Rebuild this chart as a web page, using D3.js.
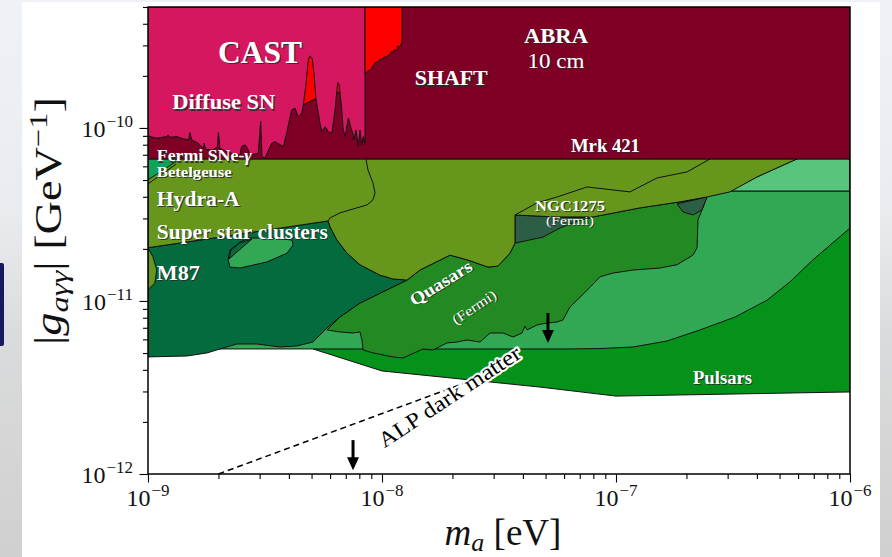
<!DOCTYPE html>
<html>
<head>
<meta charset="utf-8">
<script src="https://cdn.jsdelivr.net/npm/d3@7/dist/d3.min.js"></script>
<style>
  html, body { margin: 0; padding: 0; background: #e9edf1; overflow: hidden; }
  svg { display: block; }
</style>
</head>
<body>
<svg id="chart" width="892" height="557"></svg>
<script>
// Axion–photon coupling |g_aγγ| versus axion mass m_a: excluded regions.
// Every vertex is [m_a in eV, |g_aγγ| in GeV^-1].

const xMajorTicks = [1e-9, 1e-8, 1e-7, 1e-6];
const xTickExponents = ["−9", "−8", "−7", "−6"];
const yMajorTicks = [1e-12, 1e-11, 1e-10];
const yTickExponents = ["−12", "−11", "−10"];

// Mrk 421 / SHAFT / ABRA 10 cm band
const upperBand = [[1e-9, 6.62e-11], [1e-6, 6.62e-11], [1e-6, 5e-10], [1e-9, 5e-10]];

// Diffuse SN / Fermi SNe-γ edge (lower edge of the CAST region)
const diffuseSN = [
  [1.00e-9, 9.11e-11], [1.02e-9, 8.91e-11], [1.09e-9, 8.72e-11], [1.20e-9, 8.91e-11], [1.22e-9, 9.11e-11],
  [1.24e-9, 8.84e-11], [1.33e-9, 8.91e-11], [1.39e-9, 8.72e-11], [1.49e-9, 8.52e-11], [1.51e-9, 9.39e-11],
  [1.54e-9, 8.52e-11], [1.64e-9, 8.16e-11], [1.72e-9, 7.63e-11], [1.74e-9, 8.16e-11], [1.76e-9, 7.53e-11],
  [1.90e-9, 7.46e-11], [1.98e-9, 7.80e-11], [2.00e-9, 9.39e-11], [2.03e-9, 7.63e-11], [2.24e-9, 7.14e-11],
  [2.47e-9, 6.98e-11], [2.51e-9, 7.80e-11], [2.60e-9, 7.98e-11], [2.66e-9, 7.63e-11], [2.73e-9, 6.98e-11],
  [2.96e-9, 7.14e-11], [3.03e-9, 1.09e-10], [3.07e-9, 6.83e-11], [3.16e-9, 6.71e-11], [3.38e-9, 8.16e-11],
  [3.49e-9, 8.33e-11], [3.79e-9, 7.80e-11], [3.91e-9, 9.32e-11], [4.11e-9, 1.27e-10], [4.25e-9, 1.30e-10],
  [4.39e-9, 1.16e-10], [4.54e-9, 1.22e-10], [4.61e-9, 1.36e-10], [5.22e-9, 1.48e-10], [5.43e-9, 1.065e-10],
  [5.53e-9, 9.52e-11], [5.71e-9, 1.017e-10], [5.89e-9, 9.52e-11], [6.10e-9, 9.32e-11], [6.30e-9, 1.27e-10],
  [6.40e-9, 1.59e-10], [6.61e-9, 1.62e-10], [6.73e-9, 1.27e-10], [6.83e-9, 9.73e-11], [6.95e-9, 8.91e-11],
  [7.18e-9, 1.14e-10], [7.35e-9, 1.017e-10], [7.50e-9, 9.32e-11], [7.59e-9, 8.52e-11], [7.74e-9, 9.73e-11],
  [7.92e-9, 7.80e-11], [8.05e-9, 9.73e-11], [8.19e-9, 7.98e-11], [8.32e-9, 8.91e-11], [8.46e-9, 8.16e-11]
];
const castTopLeft = [1e-9, 5e-10];
const castTopRight = [8.46e-9, 5e-10];

// Narrow peaks reaching above the diffuse SN edge
const snPeakA = [[4.61e-9, 1.36e-10], [4.72e-9, 1.73e-10], [4.84e-9, 2.47e-10], [4.92e-9, 2.61e-10],
                 [5.04e-9, 2.50e-10], [5.12e-9, 2.07e-10], [5.22e-9, 1.48e-10]];
const snPeakB = [[6.40e-9, 1.59e-10], [6.47e-9, 1.83e-10], [6.57e-9, 1.77e-10], [6.61e-9, 1.62e-10]];

// SHAFT
const shaft = [
  [8.46e-9, 5e-10], [1.218e-8, 5e-10], [1.218e-8, 3.14e-10], [1.194e-8, 2.94e-10], [1.17e-8, 2.98e-10],
  [1.155e-8, 2.82e-10], [1.125e-8, 2.82e-10], [1.118e-8, 2.75e-10], [1.093e-8, 2.75e-10], [1.08e-8, 2.68e-10],
  [1.061e-8, 2.61e-10], [1.047e-8, 2.57e-10], [1.02e-8, 2.57e-10], [9.97e-9, 2.47e-10], [9.80e-9, 2.51e-10],
  [9.64e-9, 2.41e-10], [9.43e-9, 2.41e-10], [9.18e-9, 2.31e-10], [9.06e-9, 2.22e-10], [8.89e-9, 2.16e-10],
  [8.71e-9, 2.14e-10], [8.46e-9, 2.05e-10]
];

// Betelgeuse
const betelgeuse = [[1e-9, 6.62e-11], [1.37e-9, 6.62e-11], [1e-9, 5.01e-11]];
const betelgeuseEdge = [[1e-9, 4.75e-11], [1.32e-9, 6.19e-11]];

// Hydra-A / super star clusters
const hydraA = [
  [1e-9, 6.62e-11], [5.935e-7, 6.62e-11], [4.005e-7, 5.21e-11], [3.07e-7, 4.27e-11], [2.448e-7, 3.99e-11],
  [1.877e-7, 3.74e-11], [1.266e-7, 3.45e-11], [7.975e-8, 3.06e-11], [5.487e-8, 3.06e-11], [3.702e-8, 3.14e-11],
  [3.702e-8, 2.16e-11], [3.524e-8, 1.89e-11], [3.131e-8, 1.59e-11], [2.838e-8, 1.57e-11], [2.308e-8, 1.73e-11],
  [1.953e-8, 1.84e-11], [1.454e-8, 1.51e-11], [1.279e-8, 1.32e-11], [1.114e-8, 1.34e-11], [9.80e-9, 1.41e-11],
  [8.05e-9, 1.62e-11], [7.09e-9, 1.89e-11], [6.42e-9, 2.25e-11], [6.00e-9, 2.68e-11], [5.88e-9, 2.90e-11],
  [1e-9, 2.03e-11], [1.05e-9, 1.80e-11], [1.09e-9, 1.51e-11], [1.07e-9, 1.27e-11], [1e-9, 1.16e-11]
];
const clustersEdge = [
  [8.54e-9, 6.62e-11], [8.71e-9, 5.72e-11], [9.15e-9, 4.81e-11], [9.34e-9, 4.21e-11], [9.15e-9, 3.84e-11],
  [8.63e-9, 3.59e-11], [7.52e-9, 3.40e-11], [6.61e-9, 3.23e-11], [6.00e-9, 3.02e-11], [5.88e-9, 2.90e-11]
];
const hydraEdge = [
  [3.702e-8, 3.14e-11], [4.597e-8, 3.69e-11], [5.596e-8, 3.99e-11], [7.52e-8, 4.56e-11], [9.71e-8, 4.38e-11],
  [1.148e-7, 4.27e-11], [1.497e-7, 5.14e-11], [2.011e-7, 5.57e-11], [2.354e-7, 6.28e-11], [2.522e-7, 6.62e-11]
];

// Upper-right band and the broad region beneath it
const upperRightBand = [[5.935e-7, 6.62e-11], [1e-6, 6.62e-11], [1e-6, 4.32e-11], [3.07e-7, 4.32e-11], [4.005e-7, 5.21e-11]];
const lowerRight = [
  [1.84e-9, 5.28e-12], [6.173e-8, 5.28e-12], [8.542e-8, 5.31e-12], [1.182e-7, 5.42e-12], [1.652e-7, 5.87e-12],
  [2.286e-7, 6.80e-12], [3.23e-7, 8.08e-12], [4.418e-7, 1.01e-11], [5.54e-7, 1.29e-11], [6.95e-7, 1.73e-11],
  [1e-6, 2.64e-11], [1e-6, 4.32e-11], [3.07e-7, 4.32e-11], [8.542e-8, 3.84e-11], [1.194e-8, 1.51e-11], [2.73e-9, 1.01e-11]
];

// Pulsars
const pulsars = [
  [5.07e-9, 5.28e-12], [1.0e-8, 3.94e-12], [4.733e-8, 3.18e-12], [1e-7, 2.82e-12], [1e-6, 2.98e-12],
  [1e-6, 3.84e-11], [5.07e-9, 3.84e-11]
];

// M87
const m87 = [
  [1e-9, 2.03e-11], [5.88e-9, 2.90e-11], [6.00e-9, 2.68e-11], [6.42e-9, 2.25e-11], [7.09e-9, 1.89e-11],
  [8.05e-9, 1.62e-11], [9.80e-9, 1.41e-11], [1.114e-8, 1.34e-11], [1.279e-8, 1.32e-11], [1.05e-8, 1.16e-11],
  [8.05e-9, 9.73e-12], [6.61e-9, 8.08e-12], [5.88e-9, 7.07e-12], [5.60e-9, 6.62e-12], [5.07e-9, 5.79e-12],
  [4.33e-9, 5.50e-12], [3.66e-9, 5.42e-12], [2.92e-9, 5.64e-12], [2.40e-9, 5.64e-12], [2.03e-9, 5.28e-12],
  [1.79e-9, 5.01e-12], [1.47e-9, 4.81e-12], [1e-9, 4.75e-12]
];
const m87Island = [
  [2.20e-9, 1.73e-11], [2.24e-9, 1.97e-11], [2.47e-9, 2.19e-11], [2.73e-9, 2.31e-11], [3.42e-9, 2.31e-11],
  [4.12e-9, 2.25e-11], [4.17e-9, 2.11e-11], [3.93e-9, 1.89e-11], [3.22e-9, 1.68e-11], [2.47e-9, 1.55e-11],
  [2.24e-9, 1.57e-11]
];
const m87IslandCap = [[2.22e-9, 1.75e-11], [2.26e-9, 1.97e-11], [2.47e-9, 2.16e-11], [2.78e-9, 2.28e-11]];

// Quasars (Fermi)
const quasars = [
  [1.279e-8, 1.32e-11], [1.454e-8, 1.51e-11], [1.953e-8, 1.84e-11], [2.308e-8, 1.73e-11], [2.838e-8, 1.57e-11],
  [3.131e-8, 1.59e-11], [3.524e-8, 1.89e-11], [3.702e-8, 2.16e-11], [3.702e-8, 3.14e-11], [5.487e-8, 3.06e-11],
  [7.975e-8, 3.06e-11], [1.266e-7, 3.45e-11], [1.877e-7, 3.74e-11], [2.448e-7, 3.99e-11], [2.331e-7, 3.36e-11],
  [2.241e-7, 2.94e-11], [2.220e-7, 2.03e-11], [2.133e-7, 1.84e-11], [1.823e-7, 1.62e-11], [1.542e-7, 1.55e-11],
  [1.182e-7, 1.51e-11], [9.71e-8, 1.45e-11], [8.542e-8, 1.38e-11], [7.743e-8, 1.20e-11], [6.812e-8, 1.01e-11],
  [6.358e-8, 9.23e-12], [5.935e-8, 7.77e-12], [5.596e-8, 7.56e-12], [5.071e-8, 7.46e-12], [4.597e-8, 7.27e-12],
  [4.167e-8, 6.80e-12], [4.085e-8, 7.17e-12], [3.966e-8, 6.53e-12], [3.63e-8, 6.19e-12], [3.289e-8, 6.53e-12],
  [2.894e-8, 6.53e-12], [2.623e-8, 5.79e-12], [2.308e-8, 5.95e-12], [2.092e-8, 5.79e-12], [1.896e-8, 5.72e-12],
  [1.652e-8, 5.21e-12], [1.497e-8, 5.28e-12], [1.229e-8, 4.68e-12], [1.114e-8, 4.75e-12], [9.15e-9, 5.01e-12],
  [8.30e-9, 5.21e-12], [8.21e-9, 5.95e-12], [8.05e-9, 6.62e-12], [7.52e-9, 6.53e-12], [6.61e-9, 6.62e-12],
  [5.82e-9, 6.80e-12], [6.61e-9, 8.08e-12], [8.05e-9, 9.73e-12], [1.05e-8, 1.16e-11]
];

// NGC1275 (Fermi)
const ngc1275West = [[3.702e-8, 3.14e-11], [5.487e-8, 3.06e-11], [7.743e-8, 3.02e-11], [6.679e-8, 2.86e-11],
                     [5.764e-8, 2.64e-11], [4.875e-8, 2.34e-11], [3.702e-8, 2.16e-11]];
const ngc1275East = [[1.823e-7, 3.64e-11], [2.448e-7, 3.99e-11], [2.331e-7, 3.36e-11], [2.133e-7, 3.14e-11], [1.933e-7, 3.27e-11]];

// ALP dark matter line and upper-limit arrows
const alpDarkMatter = [[2e-9, 1e-12], [3e-8, 3.87e-12]];
const arrowMasses = [5.12e-8, 7.52e-9];
const arrowTops = [8.52e-12, 1.57e-12];
const arrowTips = [5.72e-12, 1.05e-12];

// ---------------------------------------------------------------------------
const svg = d3.select("#chart");
const defs = svg.append("defs");
const serif = "'Liberation Serif', 'Times New Roman', serif";

const x = d3.scaleLog().domain([1e-9, 1e-6]).range([148, 850]);
const y = d3.scaleLog().domain([1e-12, 5e-10]).range([474, 7]);

// page backdrop and white card
const bg = defs.append("linearGradient").attr("id", "bgGrad").attr("x1", 0).attr("y1", 0).attr("x2", 0).attr("y2", 1);
[[0, "#eef2f6"], [0.38, "#e9ecef"], [0.6, "#dadbdc"], [1, "#d0d0d0"]]
  .forEach(([o, c]) => bg.append("stop").attr("offset", o).attr("stop-color", c));
svg.append("rect").attr("width", 892).attr("height", 557).attr("fill", "url(#bgGrad)");
svg.append("rect").attr("x", -3).attr("y", 263).attr("width", 7).attr("height", 83).attr("rx", 2).attr("fill", "#16195c");
svg.append("rect").attr("x", 22).attr("y", 2).attr("width", 858).attr("height", 560).attr("fill", "#ffffff");

defs.append("clipPath").attr("id", "plotClip").append("rect")
  .attr("x", x.range()[0]).attr("y", y.range()[1])
  .attr("width", x.range()[1] - x.range()[0]).attr("height", y.range()[0] - y.range()[1]);

const plot = svg.append("g").attr("clip-path", "url(#plotClip)");
const line = d3.line().x(d => x(d[0])).y(d => y(d[1]));

function region(pts, fill) {
  plot.append("path").attr("d", line(pts) + "Z").attr("fill", fill)
    .attr("stroke", "#111").attr("stroke-width", 1).attr("stroke-linejoin", "round");
}
function edge(pts) {
  plot.append("path").attr("d", line(pts)).attr("fill", "none")
    .attr("stroke", "#111").attr("stroke-width", 1).attr("stroke-linejoin", "round");
}

const C = {
  cast: "#d4175f", maroon: "#7f0025", red: "#ff0000",
  olive: "#66961b", m87: "#036b3e", quasar: "#238a23", ngc: "#2c5e45",
  lowerRight: "#33a854", band: "#58c37a", pulsar: "#04921a", betel: "#0ea35a"
};

// ALP dark matter line (drawn under the filled regions)
plot.append("path").attr("d", line(alpDarkMatter)).attr("fill", "none")
  .attr("stroke", "#000").attr("stroke-width", 1.5).attr("stroke-dasharray", "6,4");

region(pulsars, C.pulsar);
region(lowerRight, C.lowerRight);
region(upperRightBand, C.band);
region(quasars, C.quasar);
region(ngc1275West, C.ngc);
region(ngc1275East, C.ngc);
region(m87, C.m87);
region(m87Island, C.lowerRight);
region(m87IslandCap, C.m87);
region(hydraA, C.olive);
edge(clustersEdge);
edge(hydraEdge);
region(betelgeuse, C.betel);
edge(betelgeuseEdge);
region(upperBand, C.maroon);
region([castTopLeft, ...diffuseSN, castTopRight], C.cast);
region(snPeakA, C.red);
region(snPeakB, C.red);
region(shaft, C.red);

// upper-limit arrows
arrowMasses.forEach((m, i) => {
  const ax = x(m), y0 = y(arrowTops[i]), y1 = y(arrowTips[i]);
  plot.append("line").attr("x1", ax).attr("x2", ax).attr("y1", y0).attr("y2", y1 - 10)
    .attr("stroke", "#000").attr("stroke-width", 3);
  plot.append("path").attr("d", `M${ax - 6},${y1 - 13}L${ax + 6},${y1 - 13}L${ax},${y1}Z`).attr("fill", "#000");
});

// white region labels with a soft dark shadow
function whiteLabel(parts, m, g, o) {
  const grp = svg.append("g").attr("transform", `translate(${x(m)},${y(g)}) rotate(${o.rotate || 0})`);
  [["#2a2a2a", 1.1, 1.1, 0.85], ["#ffffff", 0, 0, 1]].forEach(([fill, dx, dy, op]) => {
    const t = grp.append("text").attr("x", dx).attr("y", dy).attr("fill", fill).attr("opacity", op)
      .attr("font-family", serif).attr("font-size", o.size).attr("font-weight", o.weight || "bold")
      .attr("text-anchor", o.anchor || "start");
    if (o.width) t.attr("textLength", o.width).attr("lengthAdjust", "spacingAndGlyphs");
    parts.forEach(p => t.append("tspan").attr("font-style", p[1] ? "italic" : null).text(p[0]));
  });
}

whiteLabel([["CAST"]], 1.99e-9, 2.38e-10, { size: 31, width: 84 });
whiteLabel([["Diffuse SN"]], 1.27e-9, 1.28e-10, { size: 21, width: 103 });
whiteLabel([["SHAFT"]], 1.38e-8, 1.76e-10, { size: 22, width: 73 });
whiteLabel([["ABRA"]], 5.54e-8, 3.10e-10, { size: 21.5, width: 64, anchor: "middle" });
whiteLabel([["10 cm"]], 5.54e-8, 2.22e-10, { size: 21, width: 57, anchor: "middle", weight: "normal" });
whiteLabel([["Mrk 421"]], 6.42e-8, 7.27e-11, { size: 18.5, width: 69 });
whiteLabel([["Fermi SNe-"], ["γ", true]], 1.09e-9, 6.40e-11, { size: 16, width: 95 });
whiteLabel([["Betelgeuse"]], 1.09e-9, 5.20e-11, { size: 14.5, width: 75 });
whiteLabel([["Hydra-A"]], 1.09e-9, 3.54e-11, { size: 21, width: 83 });
whiteLabel([["Super star clusters"]], 1.09e-9, 2.28e-11, { size: 21, width: 171 });
whiteLabel([["M87"]], 1.09e-9, 1.33e-11, { size: 22, width: 43 });
whiteLabel([["NGC1275"]], 6.358e-8, 3.32e-11, { size: 15, width: 70, anchor: "middle" });
whiteLabel([["(Fermi)"]], 6.358e-8, 2.74e-11, { size: 13.5, width: 48, anchor: "middle", weight: "normal" });
whiteLabel([["Quasars"]], 1.84e-8, 1.19e-11, { size: 17.5, width: 70, anchor: "middle", rotate: -32 });
whiteLabel([["(Fermi)"]], 2.54e-8, 8.74e-12, { size: 14, width: 50, anchor: "middle", rotate: -34, weight: "normal" });
whiteLabel([["Pulsars"]], 2.133e-7, 3.31e-12, { size: 18, width: 59 });

// ALP dark matter caption: black text with a white halo
svg.append("text")
  .attr("transform", `translate(${x(2.02e-8)},${y(2.58e-12)}) rotate(-33.5)`)
  .attr("text-anchor", "middle").attr("font-family", serif).attr("font-size", 22)
  .attr("textLength", 166).attr("lengthAdjust", "spacingAndGlyphs")
  .attr("fill", "#000").attr("stroke", "#fff").attr("stroke-width", 4).attr("stroke-linejoin", "round")
  .attr("paint-order", "stroke").text("ALP dark matter");

// axes: ticks point outward, frame drawn on top
const sameValue = (a, b) => Math.abs(Math.log10(a / b)) < 1e-6;
const xMinor = x.ticks().filter(v => !xMajorTicks.some(t => sameValue(v, t)));
const yMinor = y.ticks().filter(v => !yMajorTicks.some(t => sameValue(v, t)));
const styleAxis = g => { g.select(".domain").remove(); g.selectAll("line").attr("stroke", "#000").attr("stroke-width", 1.1); };
const [yBottom] = y.range(), [xLeft] = x.range();
svg.append("g").attr("transform", `translate(0,${yBottom})`)
  .call(d3.axisBottom(x).tickValues(xMinor).tickSize(5).tickFormat("")).call(styleAxis);
svg.append("g").attr("transform", `translate(0,${yBottom})`)
  .call(d3.axisBottom(x).tickValues(xMajorTicks).tickSize(8.5).tickFormat("")).call(styleAxis);
svg.append("g").attr("transform", `translate(${xLeft},0)`)
  .call(d3.axisLeft(y).tickValues(yMinor).tickSize(5).tickFormat("")).call(styleAxis);
svg.append("g").attr("transform", `translate(${xLeft},0)`)
  .call(d3.axisLeft(y).tickValues(yMajorTicks).tickSize(8.5).tickFormat("")).call(styleAxis);

svg.append("rect").attr("x", xLeft).attr("y", y.range()[1])
  .attr("width", x.range()[1] - xLeft).attr("height", yBottom - y.range()[1])
  .attr("fill", "none").attr("stroke", "#000").attr("stroke-width", 1.5);

function powerLabel(px, py, exp, anchor) {
  const t = svg.append("text").attr("x", px).attr("y", py).attr("text-anchor", anchor)
    .attr("font-family", serif).attr("font-size", 24).attr("fill", "#111");
  t.append("tspan").text("10");
  t.append("tspan").attr("dx", 1).attr("dy", -10).attr("font-size", 17).text(exp);
}
xMajorTicks.forEach((v, i) => powerLabel(x(v), yBottom + 32, xTickExponents[i], "middle"));
yMajorTicks.forEach((v, i) => powerLabel(xLeft - 15, y(v) + 9, yTickExponents[i], "end"));

// axis titles
const xt = svg.append("text").attr("x", 503).attr("y", 545).attr("text-anchor", "middle")
  .attr("font-family", serif).attr("font-size", 37).attr("fill", "#111");
xt.append("tspan").attr("font-style", "italic").text("m");
xt.append("tspan").attr("font-style", "italic").attr("font-size", 26).attr("dy", 6).text("a");
xt.append("tspan").attr("dy", -6).text(" [eV]");

const yt = svg.append("text").attr("transform", "translate(61,221) rotate(-90)").attr("text-anchor", "middle")
  .attr("font-family", serif).attr("font-size", 37).attr("fill", "#111")
  .attr("textLength", 248).attr("lengthAdjust", "spacingAndGlyphs");
yt.append("tspan").text("|");
yt.append("tspan").attr("font-style", "italic").text("g");
yt.append("tspan").attr("font-style", "italic").attr("font-size", 26).attr("dy", 7).text("aγγ");
yt.append("tspan").attr("dy", -7).text("| [GeV");
yt.append("tspan").attr("font-size", 26).attr("dy", -14).text("−1");
yt.append("tspan").attr("dy", 14).text("]");
</script>
</body>
</html>
